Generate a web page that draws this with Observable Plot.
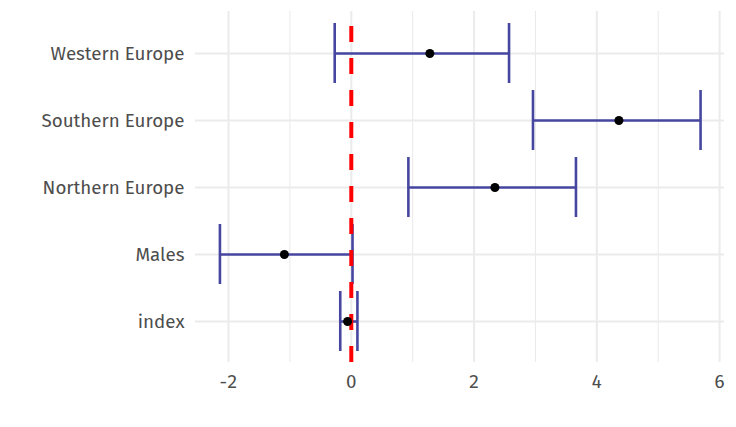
<!DOCTYPE html>
<html>
<head>
<meta charset="utf-8">
<script src="https://cdn.jsdelivr.net/npm/d3@7"></script>
<script src="https://cdn.jsdelivr.net/npm/@observablehq/plot@0.6"></script>
<style>
  html, body { margin: 0; padding: 0; background: #fff; }
  #chart svg { display: block; }
</style>
</head>
<body>
<div id="chart"></div>
<script>
const categories = ["Western Europe", "Southern Europe", "Northern Europe", "Males", "index"];
const estimates  = [1.28, 4.36, 2.34, -1.09, -0.06];
const lowers     = [-0.27, 2.96, 0.93, -2.14, -0.18];
const uppers     = [2.57, 5.69, 3.66, 0.02, 0.10];
const xTicks     = [-2, 0, 2, 4, 6];
const xMinor     = [-1, 1, 3, 5];
const refLine    = [0];

const rows = categories.map((c, i) => ({cat: c, est: estimates[i], lo: lowers[i], hi: uppers[i]}));

const barColor = "#4646a0";
const grid = "#ebebeb";
const fontFamily = "'Fira Sans', 'Open Sans', sans-serif";

// pick a font size so the longest label has the reference's width
const ctx = document.createElement("canvas").getContext("2d");
ctx.font = `100px ${fontFamily}`;
const w100 = ctx.measureText("Western Europe").width;
const fontSize = Math.max(12, Math.min(22, 134 / w100 * 100));

const fmt = d => d < 0 ? "-" + Math.abs(d) : String(d);

const chart = Plot.plot({
  width: 736,
  height: 427,
  marginTop: 11,
  marginBottom: 65,
  marginLeft: 195,
  marginRight: 12,
  style: {fontFamily, fontSize: fontSize + "px", color: "#4d4d4d", background: "#fff"},
  x: {domain: [-2.538, 6.08], ticks: xTicks, tickSize: 0, label: null, tickFormat: fmt},
  y: {domain: categories, paddingInner: 0.111, paddingOuter: 0.163, tickSize: 0, label: null},
  marks: [
    Plot.ruleX(xMinor, {stroke: grid, strokeWidth: 1.1}),
    Plot.ruleX(xTicks, {stroke: grid, strokeWidth: 2}),
    Plot.ruleY(categories, {y: d => d, stroke: grid, strokeWidth: 2}),
    Plot.ruleY(rows, {y: "cat", x1: "lo", x2: "hi", stroke: barColor, strokeWidth: 2.6}),
    Plot.tickX(rows, {x: "lo", y: "cat", stroke: barColor, strokeWidth: 2.6}),
    Plot.tickX(rows, {x: "hi", y: "cat", stroke: barColor, strokeWidth: 2.6}),
    Plot.ruleX(refLine, {stroke: "#ff0000", strokeWidth: 4, strokeDasharray: "16,16", strokeDashoffset: 17}),
    Plot.dot(rows, {x: "est", y: "cat", r: 4.5, fill: "#000", stroke: null}),
    Plot.axisX({ticks: xTicks, tickSize: 0, tickPadding: 12, label: null, fill: "#4d4d4d", tickFormat: fmt}),
    Plot.axisY({tickSize: 0, tickPadding: 11, label: null, fill: "#4d4d4d"})
  ]
});
document.getElementById("chart").appendChild(chart);
</script>
</body>
</html>
